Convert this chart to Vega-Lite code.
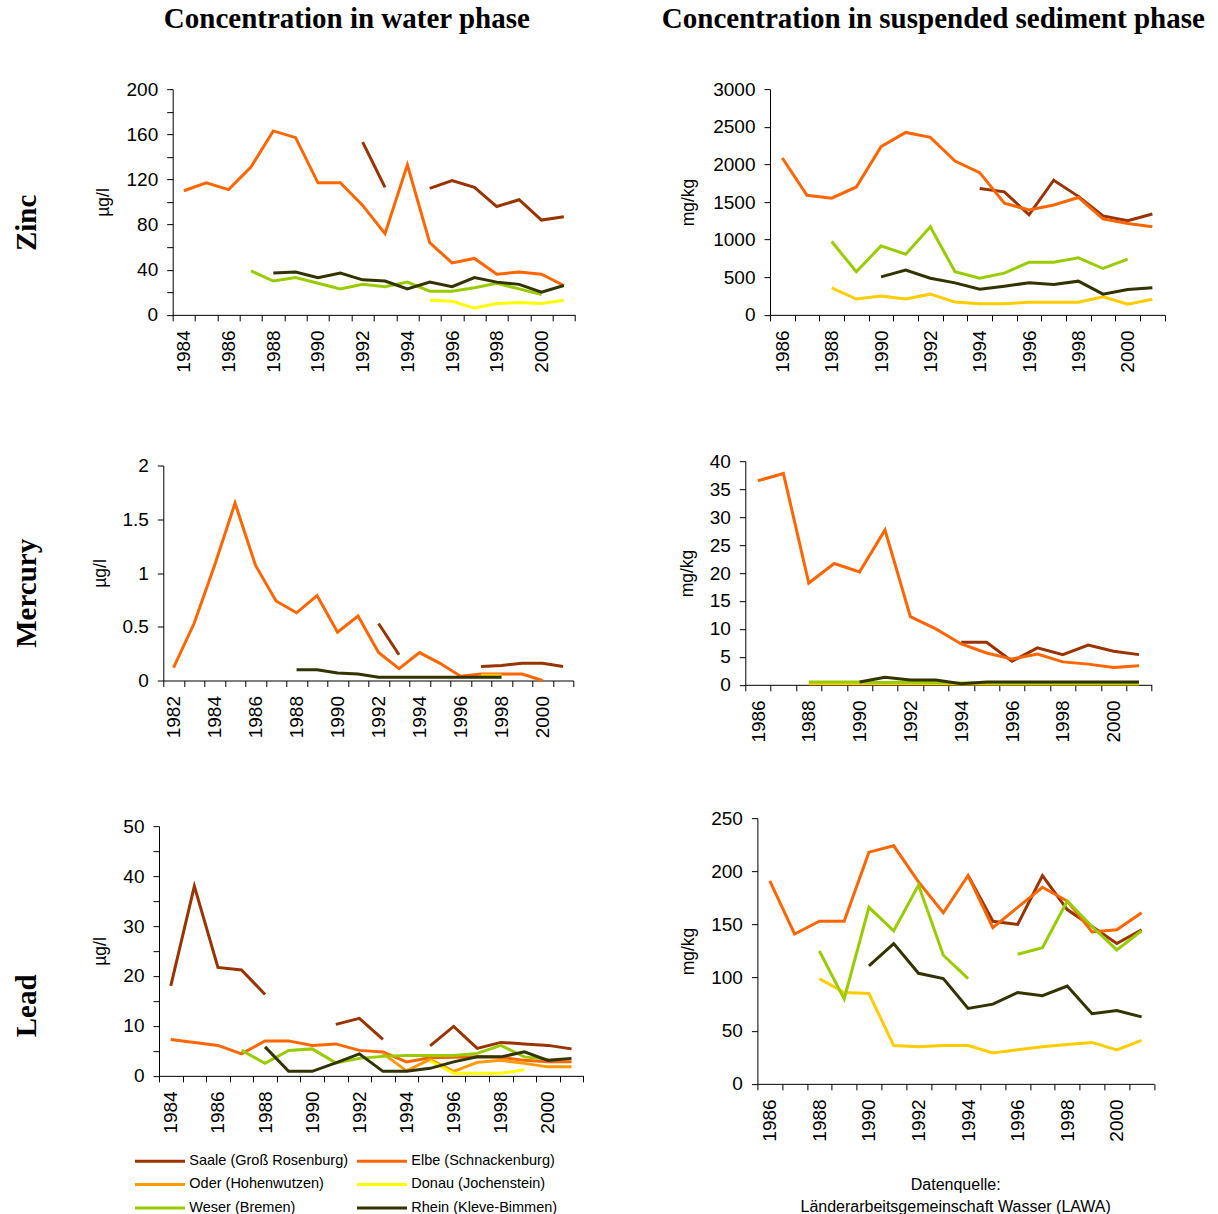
{
  "$schema": "https://vega.github.io/schema/vega-lite/v6.json",
  "padding": {"left": 0, "top": 5, "right": 5, "bottom": 0},
  "background": "white",
  "datasets": {
    "zincWater": [
      {"year": 1992, "river": "Saale (Groß Rosenburg)", "value": 153},
      {"year": 1993, "river": "Saale (Groß Rosenburg)", "value": 113},
      {"year": 1994, "river": "Saale (Groß Rosenburg)", "value": null},
      {"year": 1995, "river": "Saale (Groß Rosenburg)", "value": 112},
      {"year": 1996, "river": "Saale (Groß Rosenburg)", "value": 119},
      {"year": 1997, "river": "Saale (Groß Rosenburg)", "value": 113},
      {"year": 1998, "river": "Saale (Groß Rosenburg)", "value": 96},
      {"year": 1999, "river": "Saale (Groß Rosenburg)", "value": 102},
      {"year": 2000, "river": "Saale (Groß Rosenburg)", "value": 84},
      {"year": 2001, "river": "Saale (Groß Rosenburg)", "value": 87},
      {"year": 1984, "river": "Elbe (Schnackenburg)", "value": 110},
      {"year": 1985, "river": "Elbe (Schnackenburg)", "value": 117},
      {"year": 1986, "river": "Elbe (Schnackenburg)", "value": 111},
      {"year": 1987, "river": "Elbe (Schnackenburg)", "value": 131},
      {"year": 1988, "river": "Elbe (Schnackenburg)", "value": 163},
      {"year": 1989, "river": "Elbe (Schnackenburg)", "value": 157},
      {"year": 1990, "river": "Elbe (Schnackenburg)", "value": 117},
      {"year": 1991, "river": "Elbe (Schnackenburg)", "value": 117},
      {"year": 1992, "river": "Elbe (Schnackenburg)", "value": 97},
      {"year": 1993, "river": "Elbe (Schnackenburg)", "value": 72},
      {"year": 1994, "river": "Elbe (Schnackenburg)", "value": 133},
      {"year": 1995, "river": "Elbe (Schnackenburg)", "value": 64},
      {"year": 1996, "river": "Elbe (Schnackenburg)", "value": 46},
      {"year": 1997, "river": "Elbe (Schnackenburg)", "value": 50},
      {"year": 1998, "river": "Elbe (Schnackenburg)", "value": 36},
      {"year": 1999, "river": "Elbe (Schnackenburg)", "value": 38},
      {"year": 2000, "river": "Elbe (Schnackenburg)", "value": 36},
      {"year": 2001, "river": "Elbe (Schnackenburg)", "value": 26},
      {"year": 1995, "river": "Donau (Jochenstein)", "value": 13},
      {"year": 1996, "river": "Donau (Jochenstein)", "value": 12},
      {"year": 1997, "river": "Donau (Jochenstein)", "value": 6},
      {"year": 1998, "river": "Donau (Jochenstein)", "value": 10},
      {"year": 1999, "river": "Donau (Jochenstein)", "value": 11},
      {"year": 2000, "river": "Donau (Jochenstein)", "value": 10},
      {"year": 2001, "river": "Donau (Jochenstein)", "value": 13},
      {"year": 1987, "river": "Weser (Bremen)", "value": 39},
      {"year": 1988, "river": "Weser (Bremen)", "value": 30},
      {"year": 1989, "river": "Weser (Bremen)", "value": 33},
      {"year": 1990, "river": "Weser (Bremen)", "value": 28},
      {"year": 1991, "river": "Weser (Bremen)", "value": 23},
      {"year": 1992, "river": "Weser (Bremen)", "value": 27},
      {"year": 1993, "river": "Weser (Bremen)", "value": 25},
      {"year": 1994, "river": "Weser (Bremen)", "value": 29},
      {"year": 1995, "river": "Weser (Bremen)", "value": 21},
      {"year": 1996, "river": "Weser (Bremen)", "value": 21},
      {"year": 1997, "river": "Weser (Bremen)", "value": 24},
      {"year": 1998, "river": "Weser (Bremen)", "value": 28},
      {"year": 1999, "river": "Weser (Bremen)", "value": 23},
      {"year": 2000, "river": "Weser (Bremen)", "value": 18},
      {"year": 1988, "river": "Rhein (Kleve-Bimmen)", "value": 37},
      {"year": 1989, "river": "Rhein (Kleve-Bimmen)", "value": 38},
      {"year": 1990, "river": "Rhein (Kleve-Bimmen)", "value": 33},
      {"year": 1991, "river": "Rhein (Kleve-Bimmen)", "value": 37},
      {"year": 1992, "river": "Rhein (Kleve-Bimmen)", "value": 31},
      {"year": 1993, "river": "Rhein (Kleve-Bimmen)", "value": 30},
      {"year": 1994, "river": "Rhein (Kleve-Bimmen)", "value": 23},
      {"year": 1995, "river": "Rhein (Kleve-Bimmen)", "value": 29},
      {"year": 1996, "river": "Rhein (Kleve-Bimmen)", "value": 25},
      {"year": 1997, "river": "Rhein (Kleve-Bimmen)", "value": 33},
      {"year": 1998, "river": "Rhein (Kleve-Bimmen)", "value": 29},
      {"year": 1999, "river": "Rhein (Kleve-Bimmen)", "value": 27},
      {"year": 2000, "river": "Rhein (Kleve-Bimmen)", "value": 20},
      {"year": 2001, "river": "Rhein (Kleve-Bimmen)", "value": 26}
    ],
    "zincSediment": [
      {"year": 1994, "river": "Saale (Groß Rosenburg)", "value": 1680},
      {"year": 1995, "river": "Saale (Groß Rosenburg)", "value": 1635},
      {"year": 1996, "river": "Saale (Groß Rosenburg)", "value": 1330},
      {"year": 1997, "river": "Saale (Groß Rosenburg)", "value": 1790},
      {"year": 1998, "river": "Saale (Groß Rosenburg)", "value": 1575},
      {"year": 1999, "river": "Saale (Groß Rosenburg)", "value": 1315},
      {"year": 2000, "river": "Saale (Groß Rosenburg)", "value": 1250},
      {"year": 2001, "river": "Saale (Groß Rosenburg)", "value": 1340},
      {"year": 1986, "river": "Elbe (Schnackenburg)", "value": 2085},
      {"year": 1987, "river": "Elbe (Schnackenburg)", "value": 1590},
      {"year": 1988, "river": "Elbe (Schnackenburg)", "value": 1550},
      {"year": 1989, "river": "Elbe (Schnackenburg)", "value": 1700},
      {"year": 1990, "river": "Elbe (Schnackenburg)", "value": 2235},
      {"year": 1991, "river": "Elbe (Schnackenburg)", "value": 2425},
      {"year": 1992, "river": "Elbe (Schnackenburg)", "value": 2360},
      {"year": 1993, "river": "Elbe (Schnackenburg)", "value": 2045},
      {"year": 1994, "river": "Elbe (Schnackenburg)", "value": 1890},
      {"year": 1995, "river": "Elbe (Schnackenburg)", "value": 1485},
      {"year": 1996, "river": "Elbe (Schnackenburg)", "value": 1395},
      {"year": 1997, "river": "Elbe (Schnackenburg)", "value": 1460},
      {"year": 1998, "river": "Elbe (Schnackenburg)", "value": 1560},
      {"year": 1999, "river": "Elbe (Schnackenburg)", "value": 1275},
      {"year": 2000, "river": "Elbe (Schnackenburg)", "value": 1215},
      {"year": 2001, "river": "Elbe (Schnackenburg)", "value": 1170},
      {"year": 1988, "river": "Oder (Hohenwutzen)", "value": 360},
      {"year": 1989, "river": "Oder (Hohenwutzen)", "value": 210},
      {"year": 1990, "river": "Oder (Hohenwutzen)", "value": 250},
      {"year": 1991, "river": "Oder (Hohenwutzen)", "value": 210},
      {"year": 1992, "river": "Oder (Hohenwutzen)", "value": 275},
      {"year": 1993, "river": "Oder (Hohenwutzen)", "value": 170},
      {"year": 1994, "river": "Oder (Hohenwutzen)", "value": 148},
      {"year": 1995, "river": "Oder (Hohenwutzen)", "value": 148},
      {"year": 1996, "river": "Oder (Hohenwutzen)", "value": 168},
      {"year": 1997, "river": "Oder (Hohenwutzen)", "value": 168},
      {"year": 1998, "river": "Oder (Hohenwutzen)", "value": 168},
      {"year": 1999, "river": "Oder (Hohenwutzen)", "value": 240},
      {"year": 2000, "river": "Oder (Hohenwutzen)", "value": 142},
      {"year": 2001, "river": "Oder (Hohenwutzen)", "value": 208},
      {"year": 1988, "river": "Weser (Bremen)", "value": 975},
      {"year": 1989, "river": "Weser (Bremen)", "value": 572},
      {"year": 1990, "river": "Weser (Bremen)", "value": 917},
      {"year": 1991, "river": "Weser (Bremen)", "value": 806},
      {"year": 1992, "river": "Weser (Bremen)", "value": 1170},
      {"year": 1993, "river": "Weser (Bremen)", "value": 572},
      {"year": 1994, "river": "Weser (Bremen)", "value": 487},
      {"year": 1995, "river": "Weser (Bremen)", "value": 554},
      {"year": 1996, "river": "Weser (Bremen)", "value": 700},
      {"year": 1997, "river": "Weser (Bremen)", "value": 700},
      {"year": 1998, "river": "Weser (Bremen)", "value": 758},
      {"year": 1999, "river": "Weser (Bremen)", "value": 616},
      {"year": 2000, "river": "Weser (Bremen)", "value": 740},
      {"year": 1990, "river": "Rhein (Kleve-Bimmen)", "value": 505},
      {"year": 1991, "river": "Rhein (Kleve-Bimmen)", "value": 594},
      {"year": 1992, "river": "Rhein (Kleve-Bimmen)", "value": 487},
      {"year": 1993, "river": "Rhein (Kleve-Bimmen)", "value": 425},
      {"year": 1994, "river": "Rhein (Kleve-Bimmen)", "value": 341},
      {"year": 1995, "river": "Rhein (Kleve-Bimmen)", "value": 381},
      {"year": 1996, "river": "Rhein (Kleve-Bimmen)", "value": 425},
      {"year": 1997, "river": "Rhein (Kleve-Bimmen)", "value": 403},
      {"year": 1998, "river": "Rhein (Kleve-Bimmen)", "value": 448},
      {"year": 1999, "river": "Rhein (Kleve-Bimmen)", "value": 275},
      {"year": 2000, "river": "Rhein (Kleve-Bimmen)", "value": 337},
      {"year": 2001, "river": "Rhein (Kleve-Bimmen)", "value": 359}
    ],
    "mercuryWater": [
      {"year": 1992, "river": "Saale (Groß Rosenburg)", "value": 0.53},
      {"year": 1993, "river": "Saale (Groß Rosenburg)", "value": 0.24},
      {"year": 1994, "river": "Saale (Groß Rosenburg)", "value": null},
      {"year": 1997, "river": "Saale (Groß Rosenburg)", "value": 0.13},
      {"year": 1998, "river": "Saale (Groß Rosenburg)", "value": 0.14},
      {"year": 1999, "river": "Saale (Groß Rosenburg)", "value": 0.16},
      {"year": 2000, "river": "Saale (Groß Rosenburg)", "value": 0.16},
      {"year": 2001, "river": "Saale (Groß Rosenburg)", "value": 0.13},
      {"year": 1982, "river": "Elbe (Schnackenburg)", "value": 0.12},
      {"year": 1983, "river": "Elbe (Schnackenburg)", "value": 0.53},
      {"year": 1984, "river": "Elbe (Schnackenburg)", "value": 1.07},
      {"year": 1985, "river": "Elbe (Schnackenburg)", "value": 1.65},
      {"year": 1986, "river": "Elbe (Schnackenburg)", "value": 1.07},
      {"year": 1987, "river": "Elbe (Schnackenburg)", "value": 0.74},
      {"year": 1988, "river": "Elbe (Schnackenburg)", "value": 0.63},
      {"year": 1989, "river": "Elbe (Schnackenburg)", "value": 0.79},
      {"year": 1990, "river": "Elbe (Schnackenburg)", "value": 0.45},
      {"year": 1991, "river": "Elbe (Schnackenburg)", "value": 0.6},
      {"year": 1992, "river": "Elbe (Schnackenburg)", "value": 0.26},
      {"year": 1993, "river": "Elbe (Schnackenburg)", "value": 0.11},
      {"year": 1994, "river": "Elbe (Schnackenburg)", "value": 0.26},
      {"year": 1995, "river": "Elbe (Schnackenburg)", "value": 0.16},
      {"year": 1996, "river": "Elbe (Schnackenburg)", "value": 0.04},
      {"year": 1997, "river": "Elbe (Schnackenburg)", "value": 0.06},
      {"year": 1998, "river": "Elbe (Schnackenburg)", "value": 0.06},
      {"year": 1999, "river": "Elbe (Schnackenburg)", "value": 0.06},
      {"year": 2000, "river": "Elbe (Schnackenburg)", "value": 0},
      {"year": 1997, "river": "Oder (Hohenwutzen)", "value": 0.05},
      {"year": 1998, "river": "Oder (Hohenwutzen)", "value": 0.05},
      {"year": 1988, "river": "Rhein (Kleve-Bimmen)", "value": 0.1},
      {"year": 1989, "river": "Rhein (Kleve-Bimmen)", "value": 0.1},
      {"year": 1990, "river": "Rhein (Kleve-Bimmen)", "value": 0.07},
      {"year": 1991, "river": "Rhein (Kleve-Bimmen)", "value": 0.06},
      {"year": 1992, "river": "Rhein (Kleve-Bimmen)", "value": 0.03},
      {"year": 1993, "river": "Rhein (Kleve-Bimmen)", "value": 0.03},
      {"year": 1994, "river": "Rhein (Kleve-Bimmen)", "value": 0.03},
      {"year": 1995, "river": "Rhein (Kleve-Bimmen)", "value": 0.03},
      {"year": 1996, "river": "Rhein (Kleve-Bimmen)", "value": 0.03},
      {"year": 1997, "river": "Rhein (Kleve-Bimmen)", "value": 0.03},
      {"year": 1998, "river": "Rhein (Kleve-Bimmen)", "value": 0.03}
    ],
    "mercurySediment": [
      {"year": 1994, "river": "Saale (Groß Rosenburg)", "value": 7.6},
      {"year": 1995, "river": "Saale (Groß Rosenburg)", "value": 7.6},
      {"year": 1996, "river": "Saale (Groß Rosenburg)", "value": 4.2},
      {"year": 1997, "river": "Saale (Groß Rosenburg)", "value": 6.6},
      {"year": 1998, "river": "Saale (Groß Rosenburg)", "value": 5.4},
      {"year": 1999, "river": "Saale (Groß Rosenburg)", "value": 7.1},
      {"year": 2000, "river": "Saale (Groß Rosenburg)", "value": 6.0},
      {"year": 2001, "river": "Saale (Groß Rosenburg)", "value": 5.4},
      {"year": 1986, "river": "Elbe (Schnackenburg)", "value": 36.5},
      {"year": 1987, "river": "Elbe (Schnackenburg)", "value": 37.8},
      {"year": 1988, "river": "Elbe (Schnackenburg)", "value": 18.2},
      {"year": 1989, "river": "Elbe (Schnackenburg)", "value": 21.7},
      {"year": 1990, "river": "Elbe (Schnackenburg)", "value": 20.2},
      {"year": 1991, "river": "Elbe (Schnackenburg)", "value": 27.7},
      {"year": 1992, "river": "Elbe (Schnackenburg)", "value": 12.2},
      {"year": 1993, "river": "Elbe (Schnackenburg)", "value": 10.0},
      {"year": 1994, "river": "Elbe (Schnackenburg)", "value": 7.3},
      {"year": 1995, "river": "Elbe (Schnackenburg)", "value": 5.7},
      {"year": 1996, "river": "Elbe (Schnackenburg)", "value": 4.6},
      {"year": 1997, "river": "Elbe (Schnackenburg)", "value": 5.5},
      {"year": 1998, "river": "Elbe (Schnackenburg)", "value": 4.1},
      {"year": 1999, "river": "Elbe (Schnackenburg)", "value": 3.7},
      {"year": 2000, "river": "Elbe (Schnackenburg)", "value": 3.1},
      {"year": 2001, "river": "Elbe (Schnackenburg)", "value": 3.4},
      {"year": 1988, "river": "Oder (Hohenwutzen)", "value": 0.2},
      {"year": 1989, "river": "Oder (Hohenwutzen)", "value": 0.2},
      {"year": 1990, "river": "Oder (Hohenwutzen)", "value": 0.2},
      {"year": 1991, "river": "Oder (Hohenwutzen)", "value": 0.2},
      {"year": 1992, "river": "Oder (Hohenwutzen)", "value": 0.2},
      {"year": 1993, "river": "Oder (Hohenwutzen)", "value": 0.2},
      {"year": 1994, "river": "Oder (Hohenwutzen)", "value": 0.15},
      {"year": 1995, "river": "Oder (Hohenwutzen)", "value": 0.15},
      {"year": 1996, "river": "Oder (Hohenwutzen)", "value": 0.15},
      {"year": 1997, "river": "Oder (Hohenwutzen)", "value": 0.15},
      {"year": 1998, "river": "Oder (Hohenwutzen)", "value": 0.15},
      {"year": 1999, "river": "Oder (Hohenwutzen)", "value": 0.15},
      {"year": 2000, "river": "Oder (Hohenwutzen)", "value": 0.15},
      {"year": 2001, "river": "Oder (Hohenwutzen)", "value": 0.15},
      {"year": 1988, "river": "Weser (Bremen)", "value": 0.5},
      {"year": 1989, "river": "Weser (Bremen)", "value": 0.5},
      {"year": 1990, "river": "Weser (Bremen)", "value": 0.5},
      {"year": 1991, "river": "Weser (Bremen)", "value": 0.4},
      {"year": 1992, "river": "Weser (Bremen)", "value": 0.5},
      {"year": 1993, "river": "Weser (Bremen)", "value": 0.4},
      {"year": 1994, "river": "Weser (Bremen)", "value": 0.3},
      {"year": 1995, "river": "Weser (Bremen)", "value": 0.3},
      {"year": 1996, "river": "Weser (Bremen)", "value": 0.3},
      {"year": 1997, "river": "Weser (Bremen)", "value": 0.3},
      {"year": 1998, "river": "Weser (Bremen)", "value": 0.3},
      {"year": 1999, "river": "Weser (Bremen)", "value": 0.3},
      {"year": 2000, "river": "Weser (Bremen)", "value": 0.3},
      {"year": 2001, "river": "Weser (Bremen)", "value": 0.3},
      {"year": 1990, "river": "Rhein (Kleve-Bimmen)", "value": 0.5},
      {"year": 1991, "river": "Rhein (Kleve-Bimmen)", "value": 1.35},
      {"year": 1992, "river": "Rhein (Kleve-Bimmen)", "value": 0.85},
      {"year": 1993, "river": "Rhein (Kleve-Bimmen)", "value": 0.85},
      {"year": 1994, "river": "Rhein (Kleve-Bimmen)", "value": 0.2},
      {"year": 1995, "river": "Rhein (Kleve-Bimmen)", "value": 0.5},
      {"year": 1996, "river": "Rhein (Kleve-Bimmen)", "value": 0.5},
      {"year": 1997, "river": "Rhein (Kleve-Bimmen)", "value": 0.5},
      {"year": 1998, "river": "Rhein (Kleve-Bimmen)", "value": 0.5},
      {"year": 1999, "river": "Rhein (Kleve-Bimmen)", "value": 0.5},
      {"year": 2000, "river": "Rhein (Kleve-Bimmen)", "value": 0.5},
      {"year": 2001, "river": "Rhein (Kleve-Bimmen)", "value": 0.5}
    ],
    "leadWater": [
      {"year": 1984, "river": "Saale (Groß Rosenburg)", "value": 18},
      {"year": 1985, "river": "Saale (Groß Rosenburg)", "value": 38},
      {"year": 1986, "river": "Saale (Groß Rosenburg)", "value": 21.7},
      {"year": 1987, "river": "Saale (Groß Rosenburg)", "value": 21.2},
      {"year": 1988, "river": "Saale (Groß Rosenburg)", "value": 16.3},
      {"year": 1989, "river": "Saale (Groß Rosenburg)", "value": null},
      {"year": 1991, "river": "Saale (Groß Rosenburg)", "value": 10.3},
      {"year": 1992, "river": "Saale (Groß Rosenburg)", "value": 11.5},
      {"year": 1993, "river": "Saale (Groß Rosenburg)", "value": 7.3},
      {"year": 1994, "river": "Saale (Groß Rosenburg)", "value": null},
      {"year": 1995, "river": "Saale (Groß Rosenburg)", "value": 6.0},
      {"year": 1996, "river": "Saale (Groß Rosenburg)", "value": 9.9},
      {"year": 1997, "river": "Saale (Groß Rosenburg)", "value": 5.5},
      {"year": 1998, "river": "Saale (Groß Rosenburg)", "value": 6.7},
      {"year": 1999, "river": "Saale (Groß Rosenburg)", "value": 6.4},
      {"year": 2000, "river": "Saale (Groß Rosenburg)", "value": 6.1},
      {"year": 2001, "river": "Saale (Groß Rosenburg)", "value": 5.4},
      {"year": 1984, "river": "Elbe (Schnackenburg)", "value": 7.3},
      {"year": 1985, "river": "Elbe (Schnackenburg)", "value": 6.7},
      {"year": 1986, "river": "Elbe (Schnackenburg)", "value": 6.1},
      {"year": 1987, "river": "Elbe (Schnackenburg)", "value": 4.4},
      {"year": 1988, "river": "Elbe (Schnackenburg)", "value": 7.0},
      {"year": 1989, "river": "Elbe (Schnackenburg)", "value": 7.0},
      {"year": 1990, "river": "Elbe (Schnackenburg)", "value": 6.1},
      {"year": 1991, "river": "Elbe (Schnackenburg)", "value": 6.4},
      {"year": 1992, "river": "Elbe (Schnackenburg)", "value": 5.1},
      {"year": 1993, "river": "Elbe (Schnackenburg)", "value": 4.8},
      {"year": 1994, "river": "Elbe (Schnackenburg)", "value": 2.8},
      {"year": 1995, "river": "Elbe (Schnackenburg)", "value": 3.6},
      {"year": 1996, "river": "Elbe (Schnackenburg)", "value": 3.7},
      {"year": 1997, "river": "Elbe (Schnackenburg)", "value": 3.8},
      {"year": 1998, "river": "Elbe (Schnackenburg)", "value": 3.7},
      {"year": 1999, "river": "Elbe (Schnackenburg)", "value": 3.1},
      {"year": 2000, "river": "Elbe (Schnackenburg)", "value": 2.8},
      {"year": 2001, "river": "Elbe (Schnackenburg)", "value": 2.8},
      {"year": 1993, "river": "Oder (Hohenwutzen)", "value": 4.5},
      {"year": 1994, "river": "Oder (Hohenwutzen)", "value": 1.0},
      {"year": 1995, "river": "Oder (Hohenwutzen)", "value": 3.3},
      {"year": 1996, "river": "Oder (Hohenwutzen)", "value": 0.9},
      {"year": 1997, "river": "Oder (Hohenwutzen)", "value": 2.7},
      {"year": 1998, "river": "Oder (Hohenwutzen)", "value": 3.1},
      {"year": 1999, "river": "Oder (Hohenwutzen)", "value": 2.5},
      {"year": 2000, "river": "Oder (Hohenwutzen)", "value": 1.8},
      {"year": 2001, "river": "Oder (Hohenwutzen)", "value": 1.8},
      {"year": 1995, "river": "Donau (Jochenstein)", "value": 3.0},
      {"year": 1996, "river": "Donau (Jochenstein)", "value": 0.5},
      {"year": 1997, "river": "Donau (Jochenstein)", "value": 0.5},
      {"year": 1998, "river": "Donau (Jochenstein)", "value": 0.5},
      {"year": 1999, "river": "Donau (Jochenstein)", "value": 1.2},
      {"year": 1987, "river": "Weser (Bremen)", "value": 5.1},
      {"year": 1988, "river": "Weser (Bremen)", "value": 2.5},
      {"year": 1989, "river": "Weser (Bremen)", "value": 5.1},
      {"year": 1990, "river": "Weser (Bremen)", "value": 5.4},
      {"year": 1991, "river": "Weser (Bremen)", "value": 2.6},
      {"year": 1992, "river": "Weser (Bremen)", "value": 3.5},
      {"year": 1993, "river": "Weser (Bremen)", "value": 3.9},
      {"year": 1994, "river": "Weser (Bremen)", "value": 4.1},
      {"year": 1995, "river": "Weser (Bremen)", "value": 4.1},
      {"year": 1996, "river": "Weser (Bremen)", "value": 4.1},
      {"year": 1997, "river": "Weser (Bremen)", "value": 4.5},
      {"year": 1998, "river": "Weser (Bremen)", "value": 6.1},
      {"year": 1999, "river": "Weser (Bremen)", "value": 3.8},
      {"year": 2000, "river": "Weser (Bremen)", "value": 3.3},
      {"year": 1988, "river": "Rhein (Kleve-Bimmen)", "value": 5.8},
      {"year": 1989, "river": "Rhein (Kleve-Bimmen)", "value": 0.9},
      {"year": 1990, "river": "Rhein (Kleve-Bimmen)", "value": 0.9},
      {"year": 1991, "river": "Rhein (Kleve-Bimmen)", "value": 2.6},
      {"year": 1992, "river": "Rhein (Kleve-Bimmen)", "value": 4.4},
      {"year": 1993, "river": "Rhein (Kleve-Bimmen)", "value": 0.9},
      {"year": 1994, "river": "Rhein (Kleve-Bimmen)", "value": 0.9},
      {"year": 1995, "river": "Rhein (Kleve-Bimmen)", "value": 1.5},
      {"year": 1996, "river": "Rhein (Kleve-Bimmen)", "value": 2.8},
      {"year": 1997, "river": "Rhein (Kleve-Bimmen)", "value": 3.8},
      {"year": 1998, "river": "Rhein (Kleve-Bimmen)", "value": 3.8},
      {"year": 1999, "river": "Rhein (Kleve-Bimmen)", "value": 4.8},
      {"year": 2000, "river": "Rhein (Kleve-Bimmen)", "value": 3.1},
      {"year": 2001, "river": "Rhein (Kleve-Bimmen)", "value": 3.5}
    ],
    "leadSediment": [
      {"year": 1994, "river": "Saale (Groß Rosenburg)", "value": 196},
      {"year": 1995, "river": "Saale (Groß Rosenburg)", "value": 153},
      {"year": 1996, "river": "Saale (Groß Rosenburg)", "value": 150},
      {"year": 1997, "river": "Saale (Groß Rosenburg)", "value": 196},
      {"year": 1998, "river": "Saale (Groß Rosenburg)", "value": 164},
      {"year": 1999, "river": "Saale (Groß Rosenburg)", "value": 148},
      {"year": 2000, "river": "Saale (Groß Rosenburg)", "value": 132},
      {"year": 2001, "river": "Saale (Groß Rosenburg)", "value": 145},
      {"year": 1986, "river": "Elbe (Schnackenburg)", "value": 191},
      {"year": 1987, "river": "Elbe (Schnackenburg)", "value": 141},
      {"year": 1988, "river": "Elbe (Schnackenburg)", "value": 153},
      {"year": 1989, "river": "Elbe (Schnackenburg)", "value": 153},
      {"year": 1990, "river": "Elbe (Schnackenburg)", "value": 218},
      {"year": 1991, "river": "Elbe (Schnackenburg)", "value": 224},
      {"year": 1992, "river": "Elbe (Schnackenburg)", "value": 190},
      {"year": 1993, "river": "Elbe (Schnackenburg)", "value": 161},
      {"year": 1994, "river": "Elbe (Schnackenburg)", "value": 196},
      {"year": 1995, "river": "Elbe (Schnackenburg)", "value": 147},
      {"year": 1996, "river": "Elbe (Schnackenburg)", "value": 166},
      {"year": 1997, "river": "Elbe (Schnackenburg)", "value": 185},
      {"year": 1998, "river": "Elbe (Schnackenburg)", "value": 172},
      {"year": 1999, "river": "Elbe (Schnackenburg)", "value": 143},
      {"year": 2000, "river": "Elbe (Schnackenburg)", "value": 145},
      {"year": 2001, "river": "Elbe (Schnackenburg)", "value": 161},
      {"year": 1988, "river": "Oder (Hohenwutzen)", "value": 99},
      {"year": 1989, "river": "Oder (Hohenwutzen)", "value": 86},
      {"year": 1990, "river": "Oder (Hohenwutzen)", "value": 85},
      {"year": 1991, "river": "Oder (Hohenwutzen)", "value": 36},
      {"year": 1992, "river": "Oder (Hohenwutzen)", "value": 35},
      {"year": 1993, "river": "Oder (Hohenwutzen)", "value": 36},
      {"year": 1994, "river": "Oder (Hohenwutzen)", "value": 36},
      {"year": 1995, "river": "Oder (Hohenwutzen)", "value": 29},
      {"year": 1996, "river": "Oder (Hohenwutzen)", "value": 32},
      {"year": 1997, "river": "Oder (Hohenwutzen)", "value": 35},
      {"year": 1998, "river": "Oder (Hohenwutzen)", "value": 37},
      {"year": 1999, "river": "Oder (Hohenwutzen)", "value": 39},
      {"year": 2000, "river": "Oder (Hohenwutzen)", "value": 32},
      {"year": 2001, "river": "Oder (Hohenwutzen)", "value": 41},
      {"year": 1988, "river": "Weser (Bremen)", "value": 125},
      {"year": 1989, "river": "Weser (Bremen)", "value": 80},
      {"year": 1990, "river": "Weser (Bremen)", "value": 166},
      {"year": 1991, "river": "Weser (Bremen)", "value": 144},
      {"year": 1992, "river": "Weser (Bremen)", "value": 187},
      {"year": 1993, "river": "Weser (Bremen)", "value": 121},
      {"year": 1994, "river": "Weser (Bremen)", "value": 99},
      {"year": 1995, "river": "Weser (Bremen)", "value": null},
      {"year": 1996, "river": "Weser (Bremen)", "value": 122},
      {"year": 1997, "river": "Weser (Bremen)", "value": 128},
      {"year": 1998, "river": "Weser (Bremen)", "value": 172},
      {"year": 1999, "river": "Weser (Bremen)", "value": 148},
      {"year": 2000, "river": "Weser (Bremen)", "value": 126},
      {"year": 2001, "river": "Weser (Bremen)", "value": 144},
      {"year": 1990, "river": "Rhein (Kleve-Bimmen)", "value": 111},
      {"year": 1991, "river": "Rhein (Kleve-Bimmen)", "value": 132},
      {"year": 1992, "river": "Rhein (Kleve-Bimmen)", "value": 104},
      {"year": 1993, "river": "Rhein (Kleve-Bimmen)", "value": 99},
      {"year": 1994, "river": "Rhein (Kleve-Bimmen)", "value": 71},
      {"year": 1995, "river": "Rhein (Kleve-Bimmen)", "value": 75},
      {"year": 1996, "river": "Rhein (Kleve-Bimmen)", "value": 86},
      {"year": 1997, "river": "Rhein (Kleve-Bimmen)", "value": 83},
      {"year": 1998, "river": "Rhein (Kleve-Bimmen)", "value": 92},
      {"year": 1999, "river": "Rhein (Kleve-Bimmen)", "value": 66},
      {"year": 2000, "river": "Rhein (Kleve-Bimmen)", "value": 69},
      {"year": 2001, "river": "Rhein (Kleve-Bimmen)", "value": 63}
    ]
  },
  "config": {
    "view": {"stroke": null},
    "mark": {"invalid": "break-paths-filter-domains"},
    "line": {"strokeWidth": 3},
    "axis": {
      "domainColor": "#000000",
      "tickColor": "#000000",
      "labelColor": "#000000",
      "titleColor": "#000000",
      "labelFont": "Liberation Sans",
      "titleFont": "Liberation Sans",
      "labelFontSize": 19,
      "titleFontSize": 17.5,
      "titleFontWeight": "normal",
      "tickSize": 6,
      "labelPadding": 9,
      "grid": false
    },
    "legend": {"padding": 0}
  },
  "bounds": "full",
  "spacing": 79,
  "resolve": {"scale": {"color": "independent", "strokeWidth": "independent"}},
  "vconcat": [
    {
      "bounds": "flush",
      "spacing": 118.7,
      "resolve": {"scale": {"color": "independent", "strokeWidth": "independent"}},
      "hconcat": [
        {
          "width": 54,
          "height": 225.7,
          "data": {"values": [{"label": "Zinc"}]},
          "mark": {"type": "text", "angle": 270, "font": "Liberation Serif", "fontSize": 29, "fontWeight": "bold", "color": "#000000", "yOffset": 21},
          "encoding": {"text": {"field": "label", "type": "nominal"}}
        },
        {
          "bounds": "flush",
          "spacing": 194.3,
          "center": true,
          "resolve": {"scale": {"color": "independent", "strokeWidth": "independent"}},
          "hconcat": [
            {
              "width": 402.3,
              "height": 225.7,
              "title": {"text": "Concentration in water phase", "font": "Liberation Serif", "fontSize": 29, "fontWeight": "bold", "color": "#000000", "anchor": "middle", "frame": "group", "dx": -27, "offset": 46},
              "data": {"name": "zincWater"},
              "mark": {"type": "line"},
              "encoding": {
                "x": {"field": "year", "type": "ordinal", "scale": {"type": "band", "domain": [1984,1985,1986,1987,1988,1989,1990,1991,1992,1993,1994,1995,1996,1997,1998,1999,2000,2001], "paddingInner": 0, "paddingOuter": 0},
                  "axis": {"title": null, "tickBand": "extent", "labelAngle": 270, "labelOverlap": false, "labelExpr": "datum.value % 2 === 0 ? datum.label : ''"}},
                "y": {"field": "value", "type": "quantitative", "scale": {"domain": [0, 200], "nice": false},
                  "axis": {"title": "µg/l", "values": [0,20,40,60,80,100,120,140,160,180,200], "format": "d", "labelExpr": "datum.value % 40 === 0 ? datum.label : ''", "labelOverlap": false, "titleX": -69, "titleAngle": 270, "titleAlign": "center", "titleBaseline": "middle"}},
                "color": {"field": "river", "type": "nominal", "legend": null,
                  "scale": {"domain": ["Saale (Groß Rosenburg)","Elbe (Schnackenburg)","Oder (Hohenwutzen)","Donau (Jochenstein)","Weser (Bremen)","Rhein (Kleve-Bimmen)"], "range": ["#993300","#FF6600","#FF9900","#FFFF00","#99CC00","#333300"]}},
                "strokeWidth": {"field": "river", "type": "nominal", "legend": null,
                  "scale": {"domain": ["Saale (Groß Rosenburg)","Elbe (Schnackenburg)","Oder (Hohenwutzen)","Donau (Jochenstein)","Weser (Bremen)","Rhein (Kleve-Bimmen)"], "range": [3,3,3,1.5,3,3]}}
              }
            },
            {
              "width": 394.7,
              "height": 225.7,
              "title": {"text": "Concentration in suspended sediment phase", "font": "Liberation Serif", "fontSize": 29, "fontWeight": "bold", "color": "#000000", "anchor": "middle", "frame": "group", "dx": -34, "offset": 46},
              "data": {"name": "zincSediment"},
              "mark": {"type": "line"},
              "encoding": {
                "x": {"field": "year", "type": "ordinal", "scale": {"type": "band", "domain": [1986,1987,1988,1989,1990,1991,1992,1993,1994,1995,1996,1997,1998,1999,2000,2001], "paddingInner": 0, "paddingOuter": 0},
                  "axis": {"title": null, "tickBand": "extent", "labelAngle": 270, "labelOverlap": false, "labelExpr": "datum.value % 2 === 0 ? datum.label : ''"}},
                "y": {"field": "value", "type": "quantitative", "scale": {"domain": [0, 3000], "nice": false},
                  "axis": {"title": "mg/kg", "values": [0,500,1000,1500,2000,2500,3000], "format": "d", "labelOverlap": false, "titleX": -82, "titleAngle": 270, "titleAlign": "center", "titleBaseline": "middle"}},
                "color": {"field": "river", "type": "nominal", "legend": null,
                  "scale": {"domain": ["Saale (Groß Rosenburg)","Elbe (Schnackenburg)","Oder (Hohenwutzen)","Donau (Jochenstein)","Weser (Bremen)","Rhein (Kleve-Bimmen)"], "range": ["#993300","#FF6600","#FFCC00","#FFFF00","#99CC00","#333300"]}},
                "strokeWidth": {"field": "river", "type": "nominal", "legend": null,
                  "scale": {"domain": ["Saale (Groß Rosenburg)","Elbe (Schnackenburg)","Oder (Hohenwutzen)","Donau (Jochenstein)","Weser (Bremen)","Rhein (Kleve-Bimmen)"], "range": [3,3,3,1.5,3,3]}}
              }
            }
          ]
        }
      ]
    },
    {
      "bounds": "full",
      "spacing": 66,
      "resolve": {"scale": {"color": "independent", "strokeWidth": "independent"}},
      "vconcat": [
        {
          "bounds": "flush",
          "spacing": 109.3,
          "resolve": {"scale": {"color": "independent", "strokeWidth": "independent"}},
          "hconcat": [
            {
              "width": 54,
              "height": 223.6,
              "data": {"values": [{"label": "Mercury"}]},
              "mark": {"type": "text", "angle": 270, "font": "Liberation Serif", "fontSize": 29, "fontWeight": "bold", "color": "#000000", "yOffset": 20.5},
              "encoding": {"text": {"field": "label", "type": "nominal"}}
            },
            {
              "bounds": "flush",
              "spacing": 172,
              "center": true,
              "resolve": {"scale": {"color": "independent", "strokeWidth": "independent"}},
              "hconcat": [
                {
                  "width": 410,
                  "height": 215,
                  "data": {"name": "mercuryWater"},
                  "mark": {"type": "line"},
                  "encoding": {
                    "x": {"field": "year", "type": "ordinal", "scale": {"type": "band", "domain": [1982,1983,1984,1985,1986,1987,1988,1989,1990,1991,1992,1993,1994,1995,1996,1997,1998,1999,2000,2001], "paddingInner": 0, "paddingOuter": 0},
                      "axis": {"title": null, "tickBand": "extent", "labelAngle": 270, "labelOverlap": false, "labelExpr": "datum.value % 2 === 0 ? datum.label : ''"}},
                    "y": {"field": "value", "type": "quantitative", "scale": {"domain": [0, 2], "nice": false},
                      "axis": {"title": "µg/l", "values": [0,0.5,1,1.5,2], "format": "~g", "labelOverlap": false, "titleX": -63, "titleAngle": 270, "titleAlign": "center", "titleBaseline": "middle"}},
                    "color": {"field": "river", "type": "nominal", "legend": null,
                      "scale": {"domain": ["Saale (Groß Rosenburg)","Elbe (Schnackenburg)","Oder (Hohenwutzen)","Donau (Jochenstein)","Weser (Bremen)","Rhein (Kleve-Bimmen)"], "range": ["#993300","#FF6600","#FFCC00","#FFFF00","#99CC00","#333300"]}},
                    "strokeWidth": {"field": "river", "type": "nominal", "legend": null,
                      "scale": {"domain": ["Saale (Groß Rosenburg)","Elbe (Schnackenburg)","Oder (Hohenwutzen)","Donau (Jochenstein)","Weser (Bremen)","Rhein (Kleve-Bimmen)"], "range": [3,3,3,1.5,3,3]}}
                  }
                },
                {
                  "width": 406.4,
                  "height": 223.6,
                  "data": {"name": "mercurySediment"},
                  "mark": {"type": "line"},
                  "encoding": {
                    "x": {"field": "year", "type": "ordinal", "scale": {"type": "band", "domain": [1986,1987,1988,1989,1990,1991,1992,1993,1994,1995,1996,1997,1998,1999,2000,2001], "paddingInner": 0, "paddingOuter": 0},
                      "axis": {"title": null, "tickBand": "extent", "labelAngle": 270, "labelOverlap": false, "labelExpr": "datum.value % 2 === 0 ? datum.label : ''"}},
                    "y": {"field": "value", "type": "quantitative", "scale": {"domain": [0, 40], "nice": false},
                      "axis": {"title": "mg/kg", "values": [0,5,10,15,20,25,30,35,40], "format": "d", "labelOverlap": false, "titleX": -58, "titleAngle": 270, "titleAlign": "center", "titleBaseline": "middle"}},
                    "color": {"field": "river", "type": "nominal", "legend": null,
                      "scale": {"domain": ["Saale (Groß Rosenburg)","Elbe (Schnackenburg)","Oder (Hohenwutzen)","Donau (Jochenstein)","Weser (Bremen)","Rhein (Kleve-Bimmen)"], "range": ["#993300","#FF6600","#FFCC00","#FFFF00","#99CC00","#333300"]}},
                    "strokeWidth": {"field": "river", "type": "nominal", "legend": null,
                      "scale": {"domain": ["Saale (Groß Rosenburg)","Elbe (Schnackenburg)","Oder (Hohenwutzen)","Donau (Jochenstein)","Weser (Bremen)","Rhein (Kleve-Bimmen)"], "range": [3,3,3,1.5,3,3]}}
                  }
                }
              ]
            }
          ]
        },
        {
          "bounds": "flush",
          "spacing": 105,
          "resolve": {"scale": {"color": "independent", "strokeWidth": "independent"}},
          "hconcat": [
            {
              "width": 54,
              "height": 265.7,
              "data": {"values": [{"label": "Lead"}]},
              "mark": {"type": "text", "angle": 270, "font": "Liberation Serif", "fontSize": 29, "fontWeight": "bold", "color": "#000000", "yOffset": 55},
              "encoding": {"text": {"field": "label", "type": "nominal"}}
            },
            {
              "bounds": "flush",
              "spacing": 173.4,
              "center": true,
              "resolve": {"scale": {"color": "independent", "strokeWidth": "independent"}},
              "hconcat": [
                {
                  "width": 424.3,
                  "height": 249.7,
                  "data": {"name": "leadWater"},
                  "mark": {"type": "line"},
                  "encoding": {
                    "x": {"field": "year", "type": "ordinal", "scale": {"type": "band", "domain": [1984,1985,1986,1987,1988,1989,1990,1991,1992,1993,1994,1995,1996,1997,1998,1999,2000,2001], "paddingInner": 0, "paddingOuter": 0},
                      "axis": {"title": null, "tickBand": "extent", "labelAngle": 270, "labelOverlap": false, "labelExpr": "datum.value % 2 === 0 ? datum.label : ''"}},
                    "y": {"field": "value", "type": "quantitative", "scale": {"domain": [0, 50], "nice": false},
                      "axis": {"title": "µg/l", "values": [0,5,10,15,20,25,30,35,40,45,50], "format": "d", "labelExpr": "datum.value % 10 === 0 ? datum.label : ''", "labelOverlap": false, "titleX": -58.5, "titleAngle": 270, "titleAlign": "center", "titleBaseline": "middle"}},
                    "color": {"field": "river", "type": "nominal",
                      "scale": {"domain": ["Saale (Groß Rosenburg)","Elbe (Schnackenburg)","Oder (Hohenwutzen)","Donau (Jochenstein)","Weser (Bremen)","Rhein (Kleve-Bimmen)"], "range": ["#993300","#FF6600","#FF9900","#FFFF00","#99CC00","#333300"]},
                      "legend": {"orient": "none", "legendX": -25.5, "legendY": 327.5, "direction": "horizontal", "columns": 2, "title": null, "symbolType": "stroke", "symbolSize": 2500, "clipHeight": 14.5, "labelFont": "Liberation Sans", "labelFontSize": 14.5, "labelColor": "#000000", "labelLimit": 400, "columnPadding": 7, "rowPadding": 7.5, "labelOffset": 2.8}},
                    "strokeWidth": {"field": "river", "type": "nominal",
                      "scale": {"domain": ["Saale (Groß Rosenburg)","Elbe (Schnackenburg)","Oder (Hohenwutzen)","Donau (Jochenstein)","Weser (Bremen)","Rhein (Kleve-Bimmen)"], "range": [3,3,3,1.5,3,3]},
                      "legend": {"orient": "none", "legendX": -25.5, "legendY": 327.5, "direction": "horizontal", "columns": 2, "title": null, "symbolType": "stroke", "symbolSize": 2500, "clipHeight": 14.5, "labelFont": "Liberation Sans", "labelFontSize": 14.5, "labelColor": "#000000", "labelLimit": 400, "columnPadding": 7, "rowPadding": 7.5, "labelOffset": 2.8}}
                  }
                },
                {
                  "width": 396.6,
                  "height": 265.7,
                  "title": {"text": ["Datenquelle:", "Länderarbeitsgemeinschaft Wasser (LAWA)"], "orient": "bottom", "anchor": "middle", "frame": "group", "font": "Liberation Sans", "fontSize": 16, "fontWeight": "normal", "color": "#000000", "lineHeight": 21.5, "offset": 36},
                  "data": {"name": "leadSediment"},
                  "mark": {"type": "line"},
                  "encoding": {
                    "x": {"field": "year", "type": "ordinal", "scale": {"type": "band", "domain": [1986,1987,1988,1989,1990,1991,1992,1993,1994,1995,1996,1997,1998,1999,2000,2001], "paddingInner": 0, "paddingOuter": 0},
                      "axis": {"title": null, "tickBand": "extent", "labelAngle": 270, "labelOverlap": false, "labelExpr": "datum.value % 2 === 0 ? datum.label : ''"}},
                    "y": {"field": "value", "type": "quantitative", "scale": {"domain": [0, 250], "nice": false},
                      "axis": {"title": "mg/kg", "values": [0,50,100,150,200,250], "format": "d", "labelOverlap": false, "titleX": -69, "titleAngle": 270, "titleAlign": "center", "titleBaseline": "middle"}},
                    "color": {"field": "river", "type": "nominal", "legend": null,
                      "scale": {"domain": ["Saale (Groß Rosenburg)","Elbe (Schnackenburg)","Oder (Hohenwutzen)","Donau (Jochenstein)","Weser (Bremen)","Rhein (Kleve-Bimmen)"], "range": ["#993300","#FF6600","#FFCC00","#FFFF00","#99CC00","#333300"]}},
                    "strokeWidth": {"field": "river", "type": "nominal", "legend": null,
                      "scale": {"domain": ["Saale (Groß Rosenburg)","Elbe (Schnackenburg)","Oder (Hohenwutzen)","Donau (Jochenstein)","Weser (Bremen)","Rhein (Kleve-Bimmen)"], "range": [3,3,3,1.5,3,3]}}
                  }
                }
              ]
            }
          ]
        }
      ]
    }
  ]
}
